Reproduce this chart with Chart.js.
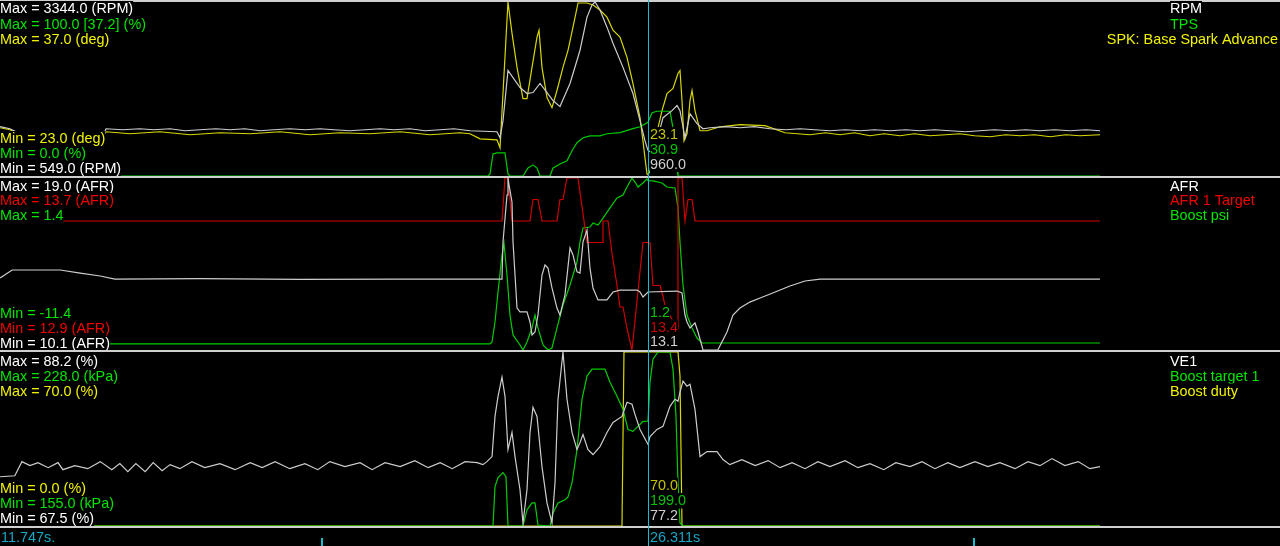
<!DOCTYPE html>
<html><head><meta charset="utf-8">
<script src="https://cdn.jsdelivr.net/npm/chart.js@4"></script>
<style>
html,body{margin:0;padding:0;background:#000;overflow:hidden;}
#wrap{position:relative;width:1280px;height:546px;background:#000;}
canvas{position:absolute;left:0;}
</style></head><body>
<div id="wrap">
<canvas id="c1" width="1280" height="176" style="top:0px"></canvas>
<canvas id="c2" width="1280" height="174" style="top:176px"></canvas>
<canvas id="c3" width="1280" height="196" style="top:350px"></canvas>
</div>
<script>
// ---- time axis (seconds) ----
const T_START = 11.747;
const T_END = 40.515;
const T_CURSOR = 26.311;
const TICK_TIMES = [18.96, 33.62];

// ---- panel 1 ----
const p1Names = ['RPM', 'TPS', 'SPK: Base Spark Advance'];
const p1Units = ['RPM', '%', 'deg'];
const p1Min = [549.0, 0.0, 23.0];
const p1Max = [3344.0, 100.0, 37.0];
const rpm = [[11.75,1341],[11.97,1308],[12.20,1228],[14.08,1228],[14.13,1308],[14.50,1292],[14.89,1308],[15.20,1292],[15.57,1308],[15.90,1276],[16.24,1292],[16.60,1308],[16.92,1292],[17.25,1308],[17.59,1276],[17.90,1292],[18.26,1308],[18.60,1292],[18.94,1308],[19.25,1292],[19.61,1276],[19.95,1292],[20.29,1308],[20.60,1292],[20.96,1308],[21.30,1276],[21.64,1292],[21.95,1308],[22.31,1276],[22.917,1260],[22.985,1163],[23.052,1438],[23.164,2245],[23.434,1971],[23.591,1874],[23.726,1890],[23.884,2035],[24.041,1890],[24.176,1761],[24.333,1664],[24.558,2035],[24.783,2569],[24.940,3102],[25.052,3296],[25.120,3344],[25.232,3215],[25.389,2940],[25.524,2682],[25.749,2294],[25.973,1874],[26.131,1438],[26.243,1114],[26.311,960],[26.401,921],[26.513,1114],[26.648,1486],[26.850,1599],[26.963,1680],[27.030,1599],[27.142,1163],[27.255,1551],[27.412,1389],[27.547,1308],[27.704,1324],[28.05,1341],[28.38,1324],[28.70,1341],[29.05,1308],[29.40,1292],[29.73,1308],[30.05,1292],[30.40,1276],[30.75,1292],[31.08,1276],[31.40,1292],[31.75,1276],[32.10,1292],[32.42,1276],[32.75,1292],[33.10,1276],[33.45,1260],[33.77,1276],[34.10,1292],[34.45,1276],[34.80,1292],[35.12,1276],[35.45,1292],[35.80,1276],[36.15,1292],[36.47,1276]];
const tps = [[11.75,0],[22.715,0],[22.760,1.2],[22.827,12.7],[22.917,13.3],[23.097,13.3],[23.164,1.2],[23.209,0],[23.501,0],[23.614,4.6],[23.726,6.4],[23.816,4.6],[23.884,0],[24.108,0],[24.176,4.6],[24.333,6.9],[24.490,8.7],[24.603,14.5],[24.715,19.1],[24.850,22.0],[25.007,23.1],[25.232,23.1],[25.389,24.3],[25.681,24.9],[25.973,27.2],[26.131,28.3],[26.311,30.9],[26.401,36.4],[26.513,37.2],[26.805,37.2],[26.873,27.7],[26.918,16.2],[26.963,4.6],[26.985,0],[36.47,0]];
const spk = [[11.75,26.88],[11.97,26.72],[12.20,26.32],[14.08,26.32],[14.13,26.56],[14.67,26.40],[15.34,26.56],[16.02,26.32],[16.69,26.48],[17.37,26.40],[18.04,26.56],[18.71,26.32],[19.39,26.48],[20.06,26.40],[20.74,26.56],[21.41,26.32],[22.09,26.48],[22.31,26.40],[22.535,25.99],[22.917,25.91],[22.985,25.27],[23.164,37.0],[23.254,34.49],[23.367,31.74],[23.501,29.23],[23.591,29.23],[23.704,31.74],[23.816,34.17],[23.861,34.73],[23.928,31.74],[24.041,29.31],[24.153,28.50],[24.265,29.88],[24.400,31.74],[24.513,33.11],[24.625,34.97],[24.738,36.92],[24.940,36.92],[25.075,36.76],[25.232,36.35],[25.389,35.78],[25.524,34.73],[25.681,34.17],[25.839,32.55],[25.973,30.44],[26.131,27.69],[26.198,25.83],[26.243,24.46],[26.288,23.16],[26.311,23.1],[26.356,23.40],[26.468,25.83],[26.626,28.26],[26.738,29.63],[26.873,30.04],[26.985,31.25],[27.030,31.49],[27.075,29.07],[27.120,25.83],[27.187,26.40],[27.255,29.07],[27.300,29.88],[27.367,28.26],[27.480,26.64],[27.637,26.64],[27.929,26.96],[28.378,27.13],[28.94,27.05],[29.39,26.48],[29.95,26.32],[30.30,26.48],[30.63,26.32],[30.95,26.48],[31.30,26.24],[31.62,26.40],[31.97,26.24],[32.30,26.40],[32.65,26.24],[33.00,26.32],[33.32,26.40],[33.65,26.24],[34.00,26.16],[34.35,26.32],[34.67,26.24],[35.00,26.32],[35.35,26.16],[35.70,26.32],[36.02,26.24],[36.47,26.32]];

// ---- panel 2 ----
const p2Names = ['AFR', 'AFR 1 Target', 'Boost psi'];
const p2Units = ['AFR', 'AFR', ''];
const p2Min = [10.1, 12.9, -11.4];
const p2Max = [19.0, 13.7, 1.4];
const afr = [[11.75,13.83],[12.02,14.24],[13.10,14.24],[13.55,14.08],[14.00,13.93],[14.33,13.77],[16.24,13.79],[18.49,13.75],[20.74,13.77],[23.029,13.77],[23.052,15.69],[23.142,18.12],[23.164,19.0],[23.187,18.64],[23.254,17.76],[23.277,15.69],[23.367,12.27],[23.434,12.07],[23.591,12.07],[23.659,11.55],[23.704,10.88],[23.771,11.03],[23.838,11.91],[23.928,13.98],[23.996,14.50],[24.063,14.34],[24.153,13.31],[24.265,12.27],[24.333,11.91],[24.445,12.95],[24.558,15.38],[24.625,15.02],[24.715,14.14],[24.783,14.08],[24.850,15.69],[24.940,16.31],[25.007,14.34],[25.075,13.31],[25.187,12.69],[25.389,12.69],[25.524,13.10],[25.681,13.20],[26.063,13.20],[26.131,13.10],[26.198,12.84],[26.311,13.1],[26.963,13.15],[27.075,13.05],[27.142,11.91],[27.187,11.55],[27.255,11.24],[27.367,11.50],[27.435,11.03],[27.547,10.1],[27.88,10.1],[28.086,11.03],[28.221,11.91],[28.378,12.27],[28.60,12.58],[28.83,12.79],[29.17,13.10],[29.50,13.41],[29.84,13.67],[30.18,13.77],[36.47,13.77]];
const afrTarget = [[11.75,13.5],[23.029,13.5],[23.097,13.7],[23.164,13.7],[23.254,13.5],[23.659,13.5],[23.726,13.6],[23.838,13.6],[23.928,13.5],[24.265,13.5],[24.333,13.6],[24.400,13.6],[24.490,13.7],[24.738,13.7],[24.940,13.4],[25.277,13.4],[25.299,13.5],[25.412,13.5],[25.502,13.35],[25.614,13.2],[25.681,13.1],[25.749,13.1],[25.839,13.0],[25.951,12.9],[26.198,13.4],[26.356,13.4],[26.423,13.2],[26.581,13.2],[26.648,13.15],[26.70,13.1],[26.963,13.0],[26.985,13.7],[27.075,13.7],[27.142,13.5],[27.210,13.6],[27.300,13.6],[27.367,13.5],[36.47,13.5]];
const boostPsi = [[11.75,-10.95],[22.760,-10.95],[22.805,-10.80],[22.872,-9.32],[22.940,-7.08],[23.029,-4.33],[23.074,-3.44],[23.142,-5.82],[23.209,-8.80],[23.277,-10.28],[23.434,-11.03],[23.501,-11.4],[23.591,-10.80],[23.704,-9.76],[23.771,-8.80],[23.838,-9.76],[23.951,-11.03],[24.063,-11.4],[24.153,-11.25],[24.265,-9.76],[24.400,-8.05],[24.558,-6.56],[24.715,-4.85],[24.783,-3.36],[24.850,-2.32],[25.007,-2.25],[25.075,-1.95],[25.187,-2.10],[25.299,-1.58],[25.457,-0.83],[25.614,-0.09],[25.749,0.14],[25.839,0.73],[25.951,1.4],[26.018,1.10],[26.086,0.73],[26.198,1.03],[26.288,1.33],[26.311,1.2],[26.423,1.18],[26.626,1.03],[26.738,0.73],[26.918,0.66],[26.985,-0.83],[27.030,-3.36],[27.097,-6.56],[27.187,-8.80],[27.300,-9.76],[27.412,-10.51],[27.524,-10.88],[36.47,-10.88]];

// ---- panel 3 ----
const p3Names = ['VE1', 'Boost target 1', 'Boost duty'];
const p3Units = ['%', 'kPa', '%'];
const p3Min = [67.5, 155.0, 0.0];
const p3Max = [88.2, 228.0, 70.0];
const ve1 = [[11.75,73.36],[12.08,73.48],[12.24,75.16],[12.42,74.68],[12.60,75.04],[12.83,74.44],[13.05,75.04],[13.16,74.20],[13.43,74.68],[13.72,74.32],[14.00,75.16],[14.26,74.20],[14.44,74.92],[14.62,73.96],[14.80,74.92],[15.01,73.96],[15.19,75.04],[15.39,74.08],[15.57,74.80],[15.79,74.32],[16.06,75.16],[16.35,74.44],[16.69,74.92],[17.03,74.20],[17.37,75.04],[17.64,74.44],[17.93,75.16],[18.26,74.32],[18.60,74.92],[18.89,74.20],[19.16,75.16],[19.50,74.56],[19.84,75.04],[20.11,74.20],[20.40,75.04],[20.74,74.56],[21.07,75.28],[21.37,74.44],[21.64,75.04],[21.91,74.32],[22.20,75.16],[22.47,75.04],[22.60,74.80],[22.69,75.16],[22.805,75.76],[22.872,80.54],[22.940,82.93],[23.029,85.21],[23.097,82.93],[23.164,76.59],[23.254,78.63],[23.322,75.76],[23.434,71.81],[23.501,67.86],[23.591,71.81],[23.659,78.63],[23.726,81.62],[23.816,80.54],[23.928,74.56],[24.041,70.25],[24.153,67.86],[24.221,72.64],[24.288,82.58],[24.400,88.2],[24.490,82.58],[24.603,78.63],[24.715,76.59],[24.783,77.43],[24.850,78.39],[24.962,76.59],[25.075,76.00],[25.232,76.95],[25.389,78.63],[25.524,79.82],[25.726,80.54],[25.839,82.22],[25.951,81.98],[26.018,80.78],[26.131,78.99],[26.311,77.2],[26.356,78.15],[26.513,78.99],[26.648,79.35],[26.805,81.74],[26.918,82.58],[26.985,82.34],[27.030,83.41],[27.097,84.73],[27.187,84.13],[27.255,84.37],[27.367,81.38],[27.480,75.76],[27.637,76.35],[27.861,76.35],[27.996,75.40],[28.15,74.80],[28.42,75.40],[28.72,74.68],[29.01,75.28],[29.28,74.44],[29.55,75.04],[29.84,74.32],[30.13,75.16],[30.40,74.56],[30.74,75.28],[31.03,74.44],[31.30,74.92],[31.61,74.20],[31.88,75.04],[32.20,74.56],[32.47,75.16],[32.76,74.32],[33.05,75.04],[33.32,74.44],[33.66,75.16],[33.95,74.56],[34.22,75.04],[34.56,74.32],[34.85,75.16],[35.12,74.68],[35.39,75.52],[35.68,74.68],[35.98,75.16],[36.24,74.32],[36.47,74.56]];
const boostTarget = [[11.75,155],[22.827,155],[22.872,171.5],[22.940,175.3],[23.052,177.4],[23.119,175.7],[23.164,155],[23.501,155],[23.591,161.8],[23.704,164.7],[23.771,164.7],[23.838,155.4],[24.108,155],[24.176,160.5],[24.288,164.7],[24.445,166.0],[24.513,167.2],[24.603,173.1],[24.715,187.1],[24.828,208.2],[24.940,217.9],[25.052,220.8],[25.344,220.8],[25.457,215.3],[25.614,209.4],[25.749,204.0],[25.861,195.5],[25.973,194.7],[26.086,196.8],[26.198,198.9],[26.311,199.0],[26.356,215.3],[26.423,225.0],[26.536,228],[26.805,228],[26.873,220.8],[26.940,201.0],[26.985,173.1],[27.030,156.3],[27.097,155],[36.47,155]];
const boostDuty = [[11.75,0],[25.726,0],[25.771,70],[26.985,70],[27.030,60.3],[27.075,0],[36.47,0]];

// ---- colours ----
const C = {
  white: {line:'#cdcdcd', text:'#ffffff', cur:'#cfcfcf'},
  green: {line:'#00cc00', text:'#00e600', cur:'#00c400'},
  yellow:{line:'#d8d800', text:'#f2f200', cur:'#c4c400'},
  red:   {line:'#d00000', text:'#f00000', cur:'#c80000'}
};
const CYAN = '#18bcd0';
const TXT_CYAN = '#12a8c6';
const SEP = '#cfcfcf';
const FONT = '14.4px "Liberation Sans", Arial, sans-serif';

const panels = [
  {canvas:'c1', top:0, padBottom:0,
   series:[{d:rpm,c:C.white},{d:tps,c:C.green,peak:true},{d:spk,c:C.yellow}],
   names:p1Names, units:p1Units, mins:p1Min, maxs:p1Max,
   maxBase:[13,28.5,43.5], minBase:[143,158,172.5], curBase:[139,154,168.5]},
  {canvas:'c2', top:176, padBottom:0,
   series:[{d:afr,c:C.white},{d:afrTarget,c:C.red},{d:boostPsi,c:C.green}],
   names:p2Names, units:p2Units, mins:p2Min, maxs:p2Max,
   maxBase:[190.5,205,219.5], minBase:[318,333,347.5], curBase:[317,331.5,346]},
  {canvas:'c3', top:350, padBottom:20, bottom:true,
   series:[{d:ve1,c:C.white},{d:boostTarget,c:C.green},{d:boostDuty,c:C.yellow}],
   names:p3Names, units:p3Units, mins:p3Min, maxs:p3Max,
   maxBase:[366,381,395.5], minBase:[493,508,522.5], curBase:[490,505,519.5]}
];

function valueAt(d, t){
  for (let i=0;i<d.length-1;i++){
    if (d[i][0]<=t && t<=d[i+1][0]){
      const f=(t-d[i][0])/(d[i+1][0]-d[i][0]||1);
      return d[i][1]+f*(d[i+1][1]-d[i][1]);
    }
  }
  return d[d.length-1][1];
}
function unitStr(u){ return u ? ' ('+u+')' : ''; }

function boxText(ctx, txt, x, base, color){
  const w = ctx.measureText(txt).width;
  ctx.fillStyle = '#000';
  ctx.fillRect(x, base-12, w, 15.5);
  ctx.fillStyle = color;
  ctx.fillText(txt, x, base);
  return w;
}

const overlay = {
  id:'overlay',
  afterDraw(chart){
    const p = chart.config.options.plugins.overlay.panel;
    const ctx = chart.ctx;
    const xs = chart.scales.x;
    ctx.save();
    ctx.translate(0, -p.top);
    ctx.fillStyle = SEP;
    ctx.fillRect(0, p.top, 1280, 2);
    if (p.bottom) ctx.fillRect(0, 526, 1280, 2);
    ctx.font = FONT;
    ctx.textBaseline = 'alphabetic';
    ctx.textAlign = 'left';
    p.series.forEach((s,i)=>{
      let t = 'Max = ' + p.maxs[i].toFixed(1);
      if (s.peak) t += ' [' + Math.max(...s.d.map(q=>q[1])).toFixed(1) + ']';
      t += unitStr(p.units[i]);
      boxText(ctx, t, 0, p.maxBase[i], s.c.text);
    });
    [2,1,0].forEach((i,k)=>{
      const t = 'Min = ' + p.mins[i].toFixed(1) + unitStr(p.units[i]);
      boxText(ctx, t, 0, p.minBase[k], p.series[i].c.text);
    });
    p.series.forEach((s,i)=>{
      const w = ctx.measureText(p.names[i]).width;
      const x = Math.min(1170, 1280 - 2 - w);
      boxText(ctx, p.names[i], x, p.maxBase[i], s.c.text);
    });
    const cx = xs.getPixelForValue(T_CURSOR);
    [2,1,0].forEach((i,k)=>{
      const v = valueAt(p.series[i].d, T_CURSOR).toFixed(1);
      boxText(ctx, v, Math.round(cx)+2, p.curBase[k], p.series[i].c.cur);
    });
    if (p.bottom){
      ctx.fillStyle = CYAN;
      TICK_TIMES.forEach(t=>{
        const tx = Math.round(xs.getPixelForValue(t));
        ctx.fillRect(tx, 538, 2, 8);
      });
      ctx.fillStyle = TXT_CYAN;
      ctx.fillText(T_START.toFixed(3)+'s.', 1, 542);
      ctx.fillText(T_CURSOR.toFixed(3)+'s', Math.round(cx)+2, 542);
    }
    ctx.fillStyle = CYAN;
    ctx.fillRect(Math.round(cx), p.top, 1, 200);
    ctx.restore();
  }
};

panels.forEach(p=>{
  const scales = { x:{type:'linear', min:T_START, max:T_END, display:false} };
  p.series.forEach((s,i)=>{
    scales['y'+i] = {type:'linear', min:p.mins[i], max:p.maxs[i], display:false};
  });
  new Chart(document.getElementById(p.canvas), {
    type:'line',
    data:{ datasets: p.series.map((s,i)=>({
      label: p.names[i],
      data: s.d.map(q=>({x:q[0], y:q[1]})),
      borderColor: s.c.line,
      borderWidth: 1.2,
      pointRadius: 0,
      tension: 0,
      fill: false,
      yAxisID: 'y'+i
    }))},
    options:{
      responsive:false, animation:false, devicePixelRatio:1, events:[],
      layout:{padding:{top:2, bottom:p.padBottom, left:0, right:0}},
      scales: scales,
      plugins:{ legend:{display:false}, tooltip:{enabled:false}, overlay:{panel:p} }
    },
    plugins:[overlay]
  });
});
</script>
</body></html>
